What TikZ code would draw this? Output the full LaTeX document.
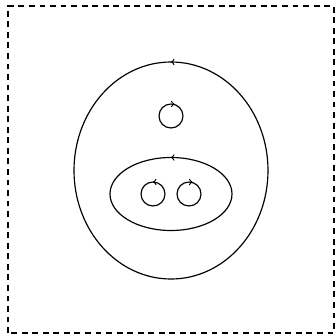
\documentclass[tikz,border=0pt]{standalone}
\usepackage{tikz}
\usetikzlibrary{decorations.markings}
\tikzset{
  loopccw/.style={line width=1pt, postaction={decorate},
    decoration={markings, mark=at position 0.25 with {\arrow{>}}}},
  loopcw/.style={line width=1pt, postaction={decorate},
    decoration={markings, mark=at position 0.25 with {\arrow{<}}}},
  frame/.style={dash pattern=on 5pt off 4pt, line width=0.9pt},
}
\begin{document}
\begin{tikzpicture}[x=0.03cm, y=0.03cm]

% ═══════════════════════════════════════════════════════════════
% FRAME
% ═══════════════════════════════════════════════════════════════
\useasboundingbox (0,0) rectangle (335,335);
\draw[frame] (8,2) rectangle (334,329);

% ═══════════════════════════════════════════════════════════════
% OUTER LOOP
% ═══════════════════════════════════════════════════════════════
\draw[loopccw] (171,164.5) ellipse [x radius=97, y radius=108.5];

% single loop at the top
\draw[loopcw] (171,219) circle [radius=12];

% ═══════════════════════════════════════════════════════════════
% INNER LOOP with two small loops
% ═══════════════════════════════════════════════════════════════
\draw[loopccw] (171,141) ellipse [x radius=61, y radius=36.5];
\draw[loopccw] (153,141) circle [radius=12];
\draw[loopcw] (189,141) circle [radius=12];

\end{tikzpicture}
\end{document}
